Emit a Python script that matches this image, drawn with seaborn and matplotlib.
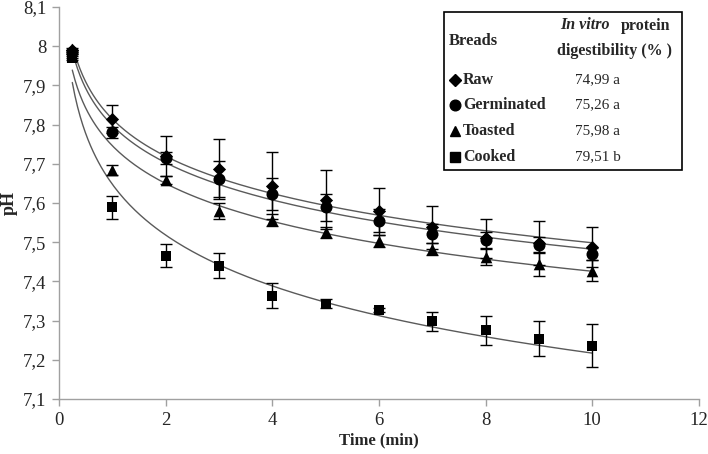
import matplotlib
matplotlib.use('Agg')
import matplotlib.pyplot as plt
from matplotlib.ticker import FuncFormatter
from matplotlib.patches import Rectangle
from matplotlib.lines import Line2D
import seaborn as sns
import pandas as pd
import numpy as np

# pH readings (mean and error bar half-width)
time = [0.25, 1, 2, 3, 4, 5, 6, 7, 8, 9, 10]
raw = [7.99, 7.815, 7.72, 7.686, 7.644, 7.608, 7.579, 7.538, 7.51, 7.499, 7.488]
raw_sd = [0.005, 0.036, 0.05, 0.077, 0.085, 0.075, 0.06, 0.055, 0.05, 0.056, 0.052]
germ = [7.985, 7.78, 7.714, 7.661, 7.623, 7.589, 7.555, 7.522, 7.505, 7.493, 7.47]
germ_sd = [0.005, 0.015, 0.015, 0.045, 0.04, 0.035, 0.03, 0.025, 0.02, 0.02, 0.015]
toast = [7.975, 7.684, 7.659, 7.579, 7.557, 7.525, 7.504, 7.483, 7.463, 7.444, 7.427]
toast_sd = [0.005, 0.013, 0.01, 0.02, 0.015, 0.015, 0.015, 0.015, 0.02, 0.03, 0.027]
cooked = [7.97, 7.589, 7.466, 7.44, 7.364, 7.343, 7.326, 7.298, 7.275, 7.254, 7.236]
cooked_sd = [0.005, 0.029, 0.03, 0.032, 0.032, 0.012, 0.005, 0.025, 0.037, 0.044, 0.055]

breads = ['Raw', 'Germinated', 'Toasted', 'Cooked']
digest = ['74,99 a', '75,26 a', '75,98 a', '79,51 b']
markers = {'Raw': 'D', 'Germinated': 'o', 'Toasted': '^', 'Cooked': 's'}
msize = {'Raw': 45, 'Germinated': 75, 'Toasted': 70, 'Cooked': 60}

series = {'Raw': (raw, raw_sd), 'Germinated': (germ, germ_sd),
          'Toasted': (toast, toast_sd), 'Cooked': (cooked, cooked_sd)}

rows = []
for b in breads:
    for t, v, s in zip(time, series[b][0], series[b][1]):
        rows.append({'time': t, 'pH': v, 'sd': s, 'bread': b})
df = pd.DataFrame(rows)

sns.set_style('white')
plt.rcParams['font.family'] = ['Liberation Serif', 'DejaVu Serif']

fig = plt.figure(figsize=(7.08, 4.54), dpi=100)
ax = fig.add_axes([0.0833, 0.1211, 0.9037, 0.8635])

# logarithmic trend lines (like Excel's)
tt = np.linspace(0.25, 10, 200)
for b in breads:
    d = df[df.bread == b]
    a, c = np.polyfit(np.log(d.time), d.pH, 1)
    sns.lineplot(x=tt, y=a * np.log(tt) + c, color='#5a5a5a', lw=1, ax=ax, zorder=2)

for b in breads:
    d = df[df.bread == b]
    ax.errorbar(d.time, d.pH, yerr=d.sd, fmt='none', ecolor='black',
                elinewidth=1, capsize=4, capthick=1, zorder=3)

for b in breads:
    d = df[df.bread == b]
    sns.scatterplot(data=d, x='time', y='pH', marker=markers[b], color='black',
                    s=msize[b], edgecolor='black', linewidth=0, legend=False,
                    ax=ax, zorder=4)

ax.set_xlim(0, 12)
ax.set_ylim(7.1, 8.1)
ax.set_xticks(range(0, 13, 2))
ax.set_yticks(np.round(np.arange(7.1, 8.11, 0.1), 1))


def comma(v, p):
    s = f'{v:.1f}'
    if s.endswith('.0'):
        s = s[:-2]
    return s.replace('.', ',')


ax.yaxis.set_major_formatter(FuncFormatter(comma))
ax.tick_params(axis='both', labelsize=13.5, length=5, width=1, color='#a0a0a0',
               direction='out', pad=4, left=True, bottom=True)
for side in ['top', 'right']:
    ax.spines[side].set_visible(False)
for side in ['left', 'bottom']:
    ax.spines[side].set_color('#a0a0a0')
    ax.spines[side].set_linewidth(1)

ax.set_xlabel('Time (min)', fontsize=12, fontweight='bold', labelpad=3)
ax.set_ylabel('pH', fontsize=13, fontweight='bold', labelpad=4)

# legend table
W, H = 708.0, 454.0


def fx(px):
    return px / W


def fy(py):
    return 1 - py / H


fig.patches.append(Rectangle((fx(444), fy(170)), fx(682) - fx(444), fy(12) - fy(170),
                             transform=fig.transFigure, fill=True, facecolor='white',
                             edgecolor='black', lw=1.2, zorder=10))
fig.text(fx(449), fy(41), 'Breads', fontsize=12, fontweight='bold', va='center', zorder=11)
fig.text(fx(560), fy(25), 'In vitro', fontsize=11.5, fontweight='bold', style='italic',
         va='center', zorder=11)
fig.text(fx(621), fy(26), 'protein', fontsize=11.5, fontweight='bold', va='center', zorder=11)
fig.text(fx(557), fy(51), 'digestibility (% )', fontsize=11.5, fontweight='bold',
         va='center', zorder=11)
row_y = [80, 105, 131, 157]
for b, v, y in zip(breads, digest, row_y):
    fig.lines.append(Line2D([fx(455)], [fy(y)], marker=markers[b], color='black',
                            markersize=np.sqrt(msize[b]) - 1, transform=fig.transFigure,
                            zorder=11))
    fig.text(fx(463), fy(y), b, fontsize=11.5, fontweight='bold', va='center', zorder=11)
    fig.text(fx(575), fy(y), v, fontsize=11, va='center', zorder=11)

fig.savefig('out.png', dpi=100)
